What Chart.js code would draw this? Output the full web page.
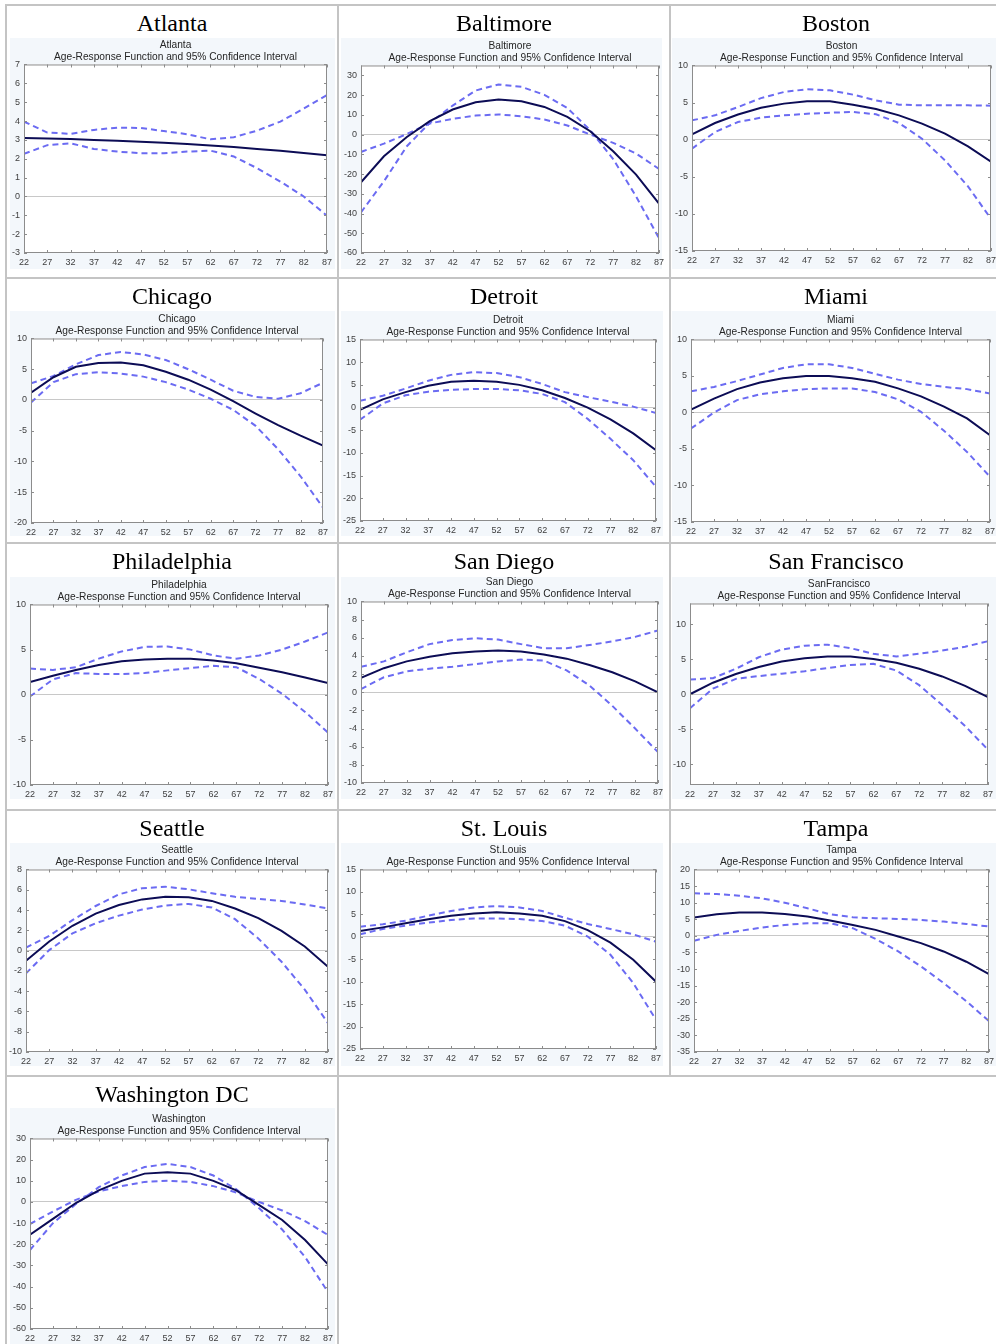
<!DOCTYPE html>
<html>
<head>
<meta charset="utf-8">
<script src="https://cdn.jsdelivr.net/npm/chart.js@4.4.1/dist/chart.umd.min.js"></script>
<style>
  body { margin: 0; width: 996px; height: 1344px; overflow: hidden; background: #fff; position: relative; }
  .cell { position: absolute; border: 2px solid #c4c4c4; box-sizing: border-box; }
  .cell .name { position: absolute; left: 0; right: 0; top: 3px; text-align: center;
    font: 24px/28px "Liberation Serif", "Times New Roman", serif; color: #000; }
  .img { position: absolute; background: #f3f7fb; }
  .plot { position: absolute; }
</style>
</head>
<body>
<script>
// ages on the x axis
const ages = [22, 27, 32, 37, 42, 47, 52, 57, 62, 67, 72, 77, 82, 87];

// fitted response and the two dashed confidence bounds, per city
const atlantaFit = [3.1, 3.08, 3.05, 3.0, 2.95, 2.9, 2.85, 2.78, 2.7, 2.62, 2.52, 2.42, 2.3, 2.18];
const atlantaUp  = [3.97, 3.39, 3.32, 3.53, 3.65, 3.63, 3.47, 3.3, 3.03, 3.14, 3.49, 3.97, 4.66, 5.38];
const atlantaLo  = [2.26, 2.72, 2.82, 2.52, 2.38, 2.29, 2.29, 2.38, 2.43, 2.12, 1.5, 0.79, 0.0, -1.02];

const baltimoreFit = [-24.2, -11, -1.2, 6.8, 12.7, 16.4, 17.8, 16.9, 14, 9, 1.7, -8.5, -20.3, -35];
const baltimoreUp  = [-8.8, -4.6, 0.3, 5.6, 8, 9.6, 10.2, 9.3, 7.6, 4.6, 0, -4.2, -9.6, -17.4];
const baltimoreLo  = [-39.4, -23.7, -5.9, 5.9, 14.7, 22.3, 25.4, 24.2, 20.1, 13.5, 2.2, -12.4, -31.3, -52.5];

const bostonFit = [0.72, 2.25, 3.4, 4.3, 4.86, 5.17, 5.17, 4.72, 4.14, 3.28, 2.16, 0.81, -0.9, -2.97];
const bostonUp  = [2.6, 3.28, 4.4, 5.6, 6.43, 6.8, 6.65, 6.07, 5.3, 4.72, 4.63, 4.63, 4.63, 4.59];
const bostonLo  = [-1.21, 1.03, 2.38, 2.97, 3.28, 3.5, 3.64, 3.73, 3.42, 2.25, 0.13, -2.79, -6.3, -10.66];

const chicagoFit = [1.2, 3.7, 5.4, 6.0, 6.1, 5.65, 4.6, 3.3, 1.7, -0.2, -2.2, -4.1, -5.8, -7.4];
const chicagoUp  = [2.7, 3.9, 5.8, 7.3, 7.8, 7.4, 6.5, 5.0, 3.3, 1.5, 0.5, 0.2, 1.1, 2.8];
const chicagoLo  = [-0.4, 2.9, 4.2, 4.5, 4.3, 3.8, 2.9, 1.7, 0.2, -1.6, -4.2, -8.0, -12.4, -17.5];

const detroitFit = [-0.5, 1.8, 3.4, 4.8, 5.7, 5.9, 5.7, 5.0, 3.8, 2.1, 0, -2.6, -5.7, -9.4];
const detroitUp  = [1.5, 2.6, 4.2, 5.9, 7.2, 7.8, 7.6, 6.7, 5.2, 3.4, 2.3, 1.3, 0.2, -1.2];
const detroitLo  = [-2.7, 0.9, 2.7, 3.5, 3.9, 4.1, 4.1, 3.8, 3.0, 1.2, -2.5, -6.9, -11.6, -17.5];

const miamiFit = [0.4, 1.9, 3.2, 4.1, 4.7, 5.0, 5.0, 4.7, 4.2, 3.3, 2.2, 0.8, -0.8, -3.1];
const miamiUp  = [2.9, 3.5, 4.3, 5.2, 6.1, 6.6, 6.6, 6.1, 5.3, 4.5, 3.9, 3.5, 3.2, 2.6];
const miamiLo  = [-2.2, 0, 1.7, 2.5, 2.9, 3.2, 3.3, 3.3, 2.8, 1.8, 0.1, -2.5, -5.4, -8.8];

const phillyFit = [1.4, 2.1, 2.75, 3.3, 3.7, 3.9, 4.0, 4.0, 3.8, 3.5, 3.0, 2.5, 1.9, 1.3];
const phillyUp  = [2.9, 2.75, 3.05, 4.0, 4.8, 5.3, 5.35, 5.0, 4.35, 4.0, 4.35, 5.0, 5.9, 6.9];
const phillyLo  = [-0.2, 1.7, 2.4, 2.3, 2.3, 2.4, 2.7, 2.95, 3.2, 3.05, 1.75, 0.1, -1.9, -4.2];

const sanDiegoFit = [1.6, 2.65, 3.4, 3.9, 4.3, 4.5, 4.6, 4.5, 4.15, 3.7, 3.0, 2.2, 1.2, 0];
const sanDiegoUp  = [2.8, 3.4, 4.4, 5.3, 5.75, 5.95, 5.8, 5.3, 4.85, 4.85, 5.2, 5.6, 6.1, 6.8];
const sanDiegoLo  = [0.35, 1.65, 2.3, 2.6, 2.8, 3.1, 3.4, 3.6, 3.5, 2.4, 0.75, -1.5, -4.0, -6.6];

const sanFranFit = [0, 1.65, 2.9, 3.9, 4.7, 5.15, 5.4, 5.4, 5.05, 4.5, 3.65, 2.55, 1.2, -0.4];
const sanFranUp  = [2.1, 2.3, 3.65, 5.3, 6.4, 6.95, 7.1, 6.6, 5.8, 5.4, 5.8, 6.25, 6.8, 7.6];
const sanFranLo  = [-2.0, 0.8, 2.2, 2.6, 2.95, 3.3, 3.75, 4.2, 4.35, 3.4, 1.3, -1.55, -4.55, -7.95];

const seattleFit = [-1.0, 0.9, 2.45, 3.65, 4.5, 5.05, 5.3, 5.25, 4.9, 4.15, 3.2, 1.95, 0.4, -1.6];
const seattleUp  = [0.3, 1.45, 3.0, 4.4, 5.55, 6.15, 6.3, 6.05, 5.65, 5.3, 5.1, 4.9, 4.55, 4.15];
const seattleLo  = [-2.25, 0.05, 1.7, 2.7, 3.45, 4.05, 4.45, 4.6, 4.25, 3.1, 1.2, -1.1, -3.85, -7.15];

const stLouisFit = [1.3, 2.1, 3.0, 3.9, 4.7, 5.2, 5.45, 5.2, 4.7, 3.5, 1.5, -1.3, -5.1, -10.0];
const stLouisUp  = [2.25, 2.8, 3.6, 4.7, 5.75, 6.55, 6.85, 6.55, 5.75, 4.25, 2.85, 1.75, 0.55, -1.1];
const stLouisLo  = [0.55, 1.75, 2.5, 3.15, 3.75, 4.1, 4.1, 3.95, 3.5, 2.5, 0.05, -4.0, -10.3, -18.5];

const tampaFit = [5.5, 6.5, 7.0, 7.0, 6.6, 5.8, 4.6, 3.3, 1.8, -0.2, -2.2, -4.7, -7.8, -11.5];
const tampaUp  = [12.8, 12.6, 12.1, 11.3, 10.0, 8.3, 6.5, 5.6, 5.3, 5.1, 4.8, 4.3, 3.6, 2.8];
const tampaLo  = [-1.5, 0.3, 1.5, 2.5, 3.3, 3.8, 3.8, 2.3, -0.9, -4.7, -9.2, -14.2, -19.7, -25.7];

const washFit = [-15.5, -8, -0.5, 5.5, 10, 13.4, 14, 13.4, 10, 5.5, -1.5, -8.5, -18, -29.5];
const washUp  = [-10.4, -4.5, 1, 5, 7.5, 9.5, 10, 9.5, 7.5, 4.5, 0, -4, -9, -15.6];
const washLo  = [-22.7, -10, -1, 7, 12.5, 16.5, 18, 16.5, 12.5, 6, -3, -13, -26, -42.6];

const subtitle = 'Age-Response Function and 95% Confidence Interval';

// name, inner title, series, y range and step, cell box, image box, plot box
const panels = [
  { name: 'Atlanta', label: 'Atlanta', fit: atlantaFit, up: atlantaUp, lo: atlantaLo, y: [-3, 7, 1],
    cell: [5, 4, 334, 275], img: [10, 38, 335, 269], plot: [24, 64, 327, 253] },
  { name: 'Baltimore', label: 'Baltimore', fit: baltimoreFit, up: baltimoreUp, lo: baltimoreLo, y: [-60, 35, 10],
    cell: [337, 4, 334, 275], img: [341, 38, 662, 269], plot: [361, 65, 659, 253] },
  { name: 'Boston', label: 'Boston', fit: bostonFit, up: bostonUp, lo: bostonLo, y: [-15, 10, 5],
    cell: [669, 4, 334, 275], img: [672, 38, 1000, 269], plot: [692, 65, 991, 251] },
  { name: 'Chicago', label: 'Chicago', fit: chicagoFit, up: chicagoUp, lo: chicagoLo, y: [-20, 10, 5],
    cell: [5, 277, 334, 267], img: [10, 311, 335, 536], plot: [31, 338, 323, 523] },
  { name: 'Detroit', label: 'Detroit', fit: detroitFit, up: detroitUp, lo: detroitLo, y: [-25, 15, 5],
    cell: [337, 277, 334, 267], img: [341, 311, 663, 536], plot: [360, 339, 656, 521] },
  { name: 'Miami', label: 'Miami', fit: miamiFit, up: miamiUp, lo: miamiLo, y: [-15, 10, 5],
    cell: [669, 277, 334, 267], img: [672, 311, 1000, 536], plot: [691, 339, 990, 522] },
  { name: 'Philadelphia', label: 'Philadelphia', fit: phillyFit, up: phillyUp, lo: phillyLo, y: [-10, 10, 5],
    cell: [5, 542, 334, 269], img: [10, 577, 335, 799], plot: [30, 604, 328, 785] },
  { name: 'San Diego', label: 'San Diego', fit: sanDiegoFit, up: sanDiegoUp, lo: sanDiegoLo, y: [-10, 10, 2],
    cell: [337, 542, 334, 269], img: [341, 577, 663, 799], plot: [361, 601, 658, 783] },
  { name: 'San Francisco', label: 'SanFrancisco', fit: sanFranFit, up: sanFranUp, lo: sanFranLo, y: [-13, 13, 5],
    cell: [669, 542, 334, 269], img: [672, 577, 1000, 799], plot: [690, 603, 988, 785] },
  { name: 'Seattle', label: 'Seattle', fit: seattleFit, up: seattleUp, lo: seattleLo, y: [-10, 8, 2],
    cell: [5, 809, 334, 268], img: [10, 843, 335, 1066], plot: [26, 869, 328, 1052] },
  { name: 'St. Louis', label: 'St.Louis', fit: stLouisFit, up: stLouisUp, lo: stLouisLo, y: [-25, 15, 5],
    cell: [337, 809, 334, 268], img: [341, 843, 663, 1066], plot: [360, 869, 656, 1049] },
  { name: 'Tampa', label: 'Tampa', fit: tampaFit, up: tampaUp, lo: tampaLo, y: [-35, 20, 5],
    cell: [669, 809, 334, 268], img: [672, 843, 1000, 1066], plot: [694, 869, 989, 1052] },
  { name: 'Washington DC', label: 'Washington', fit: washFit, up: washUp, lo: washLo, y: [-60, 30, 10],
    cell: [5, 1075, 334, 280], img: [10, 1108, 335, 1360], plot: [30, 1138, 328, 1329] }
];

// white plot area, then a MATLAB-like box with inward ticks on all four sides
const matlabBox = {
  id: 'matlabBox',
  beforeDraw(chart) {
    const a = chart.chartArea, c = chart.ctx;
    c.save();
    c.fillStyle = '#ffffff';
    c.fillRect(a.left, a.top, a.width, a.height);
    c.restore();
  },
  afterDraw(chart) {
    const c = chart.ctx, a = chart.chartArea, x = chart.scales.x, y = chart.scales.y;
    c.save();
    c.strokeStyle = '#8c8c8c';
    c.lineWidth = 1;
    c.strokeRect(a.left + 0.5, a.top + 0.5, a.width - 1, a.height - 1);
    c.beginPath();
    x.ticks.forEach(t => {
      const px = Math.round(x.getPixelForValue(t.value)) + 0.5;
      c.moveTo(px, a.bottom); c.lineTo(px, a.bottom - 3);
      c.moveTo(px, a.top); c.lineTo(px, a.top + 3);
    });
    y.ticks.forEach(t => {
      const py = Math.round(y.getPixelForValue(t.value)) + 0.5;
      c.moveTo(a.left, py); c.lineTo(a.left + 3, py);
      c.moveTo(a.right, py); c.lineTo(a.right - 3, py);
    });
    c.stroke();
    c.restore();
  }
};

const PAD_L = 26, PAD_R = 12, PAD_B = 18, TITLE_H = 26;
const tickFont = { family: '"Liberation Sans", Arial, sans-serif', size: 9 };
const toPoints = vals => ages.map((a, i) => ({ x: a, y: vals[i] }));

panels.forEach(p => {
  const cell = document.createElement('div');
  cell.className = 'cell';
  Object.assign(cell.style, { left: p.cell[0] + 'px', top: p.cell[1] + 'px', width: p.cell[2] + 'px', height: p.cell[3] + 'px' });
  const nm = document.createElement('div');
  nm.className = 'name';
  nm.textContent = p.name;
  cell.appendChild(nm);
  document.body.appendChild(cell);

  const img = document.createElement('div');
  img.className = 'img';
  Object.assign(img.style, { left: p.img[0] + 'px', top: p.img[1] + 'px',
    width: (p.img[2] - p.img[0]) + 'px', height: (p.img[3] - p.img[1]) + 'px' });
  document.body.appendChild(img);

  const box = document.createElement('div');
  box.className = 'plot';
  Object.assign(box.style, { left: (p.plot[0] - PAD_L) + 'px', top: (p.plot[1] - TITLE_H) + 'px',
    width: (p.plot[2] - p.plot[0] + PAD_L + PAD_R) + 'px', height: (p.plot[3] - p.plot[1] + TITLE_H + PAD_B) + 'px' });
  const cv = document.createElement('canvas');
  box.appendChild(cv);
  document.body.appendChild(box);

  const [yMin, yMax, yStep] = p.y;
  new Chart(cv, {
    type: 'line',
    data: {
      datasets: [
        { data: toPoints(p.fit), borderColor: '#0c0c55', borderWidth: 2 },
        { data: toPoints(p.up), borderColor: '#6b6bf2', borderWidth: 2, borderDash: [6, 4] },
        { data: toPoints(p.lo), borderColor: '#6b6bf2', borderWidth: 2, borderDash: [6, 4] }
      ]
    },
    options: {
      responsive: true,
      maintainAspectRatio: false,
      animation: false,
      events: [],
      layout: { padding: { left: 0, right: PAD_R, bottom: 0, top: 0 } },
      elements: { point: { radius: 0 }, line: { tension: 0 } },
      plugins: {
        legend: { display: false },
        tooltip: { enabled: false },
        title: {
          display: true,
          fullSize: false,
          text: [p.label, subtitle],
          color: '#262626',
          font: { family: '"Liberation Sans", Arial, sans-serif', size: 10.2, weight: 'normal', lineHeight: 1.2 },
          padding: { top: 1, bottom: 1 }
        }
      },
      scales: {
        x: {
          type: 'linear', min: 22, max: 87,
          afterFit: s => { s.height = PAD_B; },
          ticks: { stepSize: 5, autoSkip: false, maxRotation: 0, padding: 4, color: '#404040', font: tickFont },
          grid: { display: false, drawTicks: false },
          border: { display: false }
        },
        y: {
          min: yMin, max: yMax,
          afterFit: s => { s.width = PAD_L; },
          afterBuildTicks: s => {
            const t = [];
            for (let v = Math.ceil(yMin / yStep) * yStep; v <= yMax + 1e-9; v += yStep) t.push({ value: v });
            s.ticks = t;
          },
          ticks: { padding: 4, color: '#404040', font: tickFont },
          grid: { drawTicks: false, color: c => (c.tick && c.tick.value === 0 ? '#c8c8c8' : 'rgba(0,0,0,0)') },
          border: { display: false }
        }
      }
    },
    plugins: [matlabBox]
  });
});
</script>
</body>
</html>
